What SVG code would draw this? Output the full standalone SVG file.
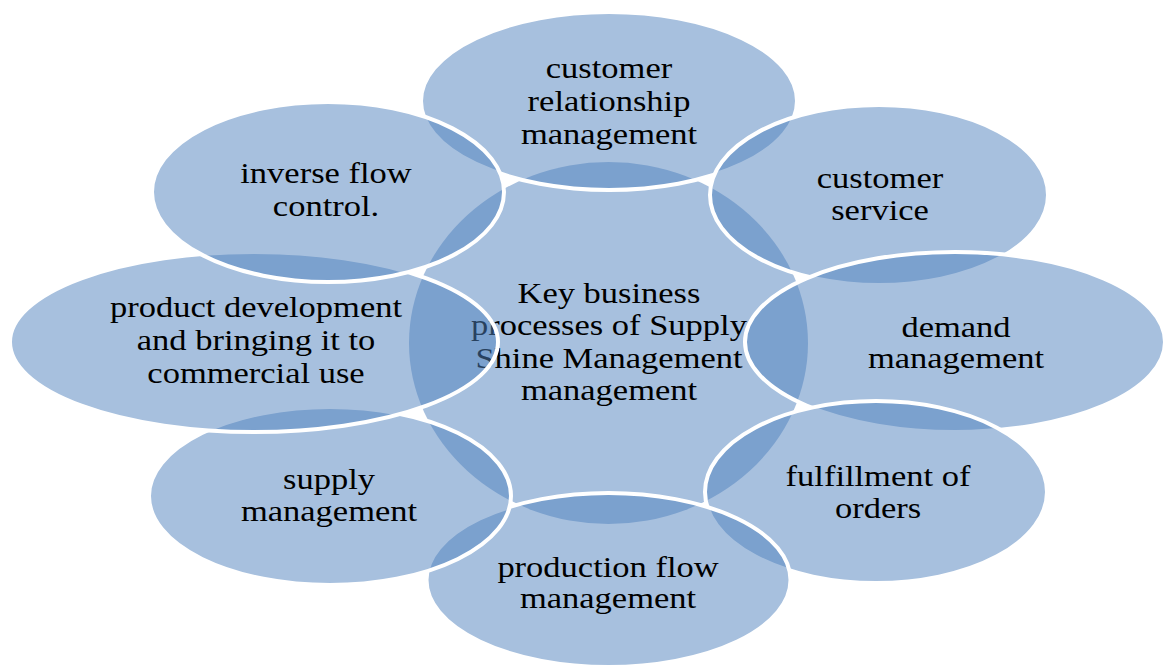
<svg xmlns="http://www.w3.org/2000/svg" width="1171" height="668" viewBox="0 0 1171 668">
  <style>
    .shape { fill: rgb(79,129,189); fill-opacity: 0.5; stroke: #ffffff; stroke-width: 4; }
    .hub { stroke: none; }
    .label { font-family: "Liberation Serif", "Times New Roman", serif; font-size: 30px; fill: #000000; text-anchor: middle; }
  </style>
  <rect width="1171" height="668" fill="#ffffff"/>

  <!-- central process -->
  <g id="hub">
    <ellipse class="shape hub" cx="608.5" cy="343" rx="199.5" ry="181"/>
    <text class="label" transform="translate(609,303) scale(1.15,1)" x="0" y="0">Key business</text>
    <text class="label" transform="translate(609,335) scale(1.15,1)" x="0" y="0">processes of Supply</text>
    <text class="label" transform="translate(609,368) scale(1.15,1)" x="0" y="0">Shine Management</text>
    <text class="label" transform="translate(609,400) scale(1.15,1)" x="0" y="0">management</text>
  </g>

  <!-- surrounding processes, drawn clockwise from the top -->
  <g id="crm">
    <ellipse class="shape" cx="609" cy="101" rx="188" ry="89"/>
    <text class="label" transform="translate(609,78) scale(1.15,1)" x="0" y="0">customer</text>
    <text class="label" transform="translate(609,111) scale(1.15,1)" x="0" y="0">relationship</text>
    <text class="label" transform="translate(609,144) scale(1.15,1)" x="0" y="0">management</text>
  </g>

  <g id="customer-service">
    <ellipse class="shape" cx="879" cy="195" rx="169" ry="90"/>
    <text class="label" transform="translate(880,188) scale(1.15,1)" x="0" y="0">customer</text>
    <text class="label" transform="translate(880,220) scale(1.15,1)" x="0" y="0">service</text>
  </g>

  <g id="demand">
    <ellipse class="shape" cx="955" cy="342" rx="210" ry="90"/>
    <text class="label" transform="translate(956,337) scale(1.15,1)" x="0" y="0">demand</text>
    <text class="label" transform="translate(956,368) scale(1.15,1)" x="0" y="0">management</text>
  </g>

  <g id="fulfillment">
    <ellipse class="shape" cx="876" cy="492" rx="171" ry="91"/>
    <text class="label" transform="translate(878,486) scale(1.15,1)" x="0" y="0">fulfillment of</text>
    <text class="label" transform="translate(878,518) scale(1.15,1)" x="0" y="0">orders</text>
  </g>

  <g id="production">
    <ellipse class="shape" cx="608.5" cy="580" rx="182" ry="87"/>
    <text class="label" transform="translate(608,577) scale(1.15,1)" x="0" y="0">production flow</text>
    <text class="label" transform="translate(608,608) scale(1.15,1)" x="0" y="0">management</text>
  </g>

  <g id="supply">
    <ellipse class="shape" cx="330" cy="496" rx="181" ry="89"/>
    <text class="label" transform="translate(329,489) scale(1.15,1)" x="0" y="0">supply</text>
    <text class="label" transform="translate(329,521) scale(1.15,1)" x="0" y="0">management</text>
  </g>

  <g id="product-development">
    <ellipse class="shape" cx="254" cy="342" rx="244" ry="90"/>
    <text class="label" transform="translate(256,317) scale(1.15,1)" x="0" y="0">product development</text>
    <text class="label" transform="translate(256,350) scale(1.15,1)" x="0" y="0">and bringing it to</text>
    <text class="label" transform="translate(256,383) scale(1.15,1)" x="0" y="0">commercial use</text>
  </g>

  <g id="inverse-flow">
    <ellipse class="shape" cx="328" cy="192" rx="176" ry="90"/>
    <text class="label" transform="translate(326,183) scale(1.15,1)" x="0" y="0">inverse flow</text>
    <text class="label" transform="translate(326,216) scale(1.15,1)" x="0" y="0">control.</text>
  </g>

  <!-- no connectors in this layout -->
  <g id="connectors"/>
</svg>
